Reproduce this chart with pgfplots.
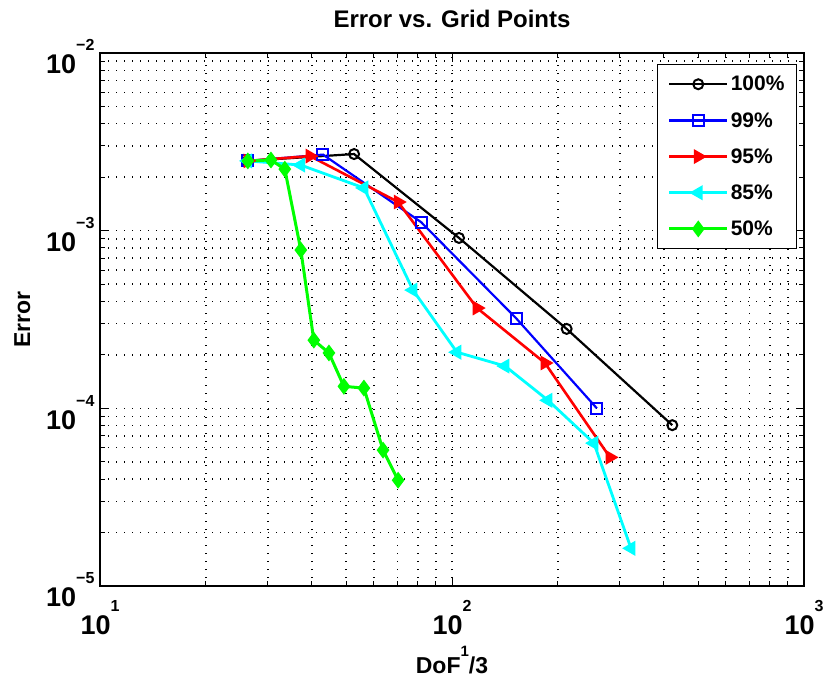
\documentclass[border=0pt]{standalone}
\usepackage{fontspec}
\setmainfont{Liberation Sans}
\usepackage{pgfplots}
\pgfplotsset{compat=1.18}
\definecolor{mcyan}{RGB}{0,255,255}
\definecolor{mgreen}{RGB}{0,255,0}
\definecolor{mblue}{RGB}{0,0,255}
\definecolor{mred}{RGB}{255,0,0}
\newcommand{\tl}[1]{{\fontsize{27}{30}\selectfont\bfseries 10\raisebox{0.85em}{\fontsize{16}{18}\selectfont #1}}}
\begin{document}
\begin{tikzpicture}[x=1pt,y=1pt]
\useasboundingbox (0,0) rectangle (823,683);
\begin{axis}[
 at={(100pt,97pt)}, anchor=south west,
 scale only axis, width=704pt, height=533pt,
 xmode=log, ymode=log,
 xmin=10, xmax=1000, ymin=1e-5, ymax=1e-2,
 xtick={10,100,1000}, ytick={1e-5,1e-4,1e-3,1e-2},
 xticklabels={\tl{1},\tl{2},\tl{3}},
 yticklabels={\tl{\textminus5},\tl{\textminus4},\tl{\textminus3},\tl{\textminus2}},
 xticklabel style={anchor=north, yshift=-11pt},
 yticklabel style={anchor=east, xshift=-2pt, yshift=-4pt},
 grid=both,
 major grid style={black, line width=1.4pt, dash pattern=on 1.4pt off 6.6pt},
 minor grid style={black, line width=1.4pt, dash pattern=on 1.4pt off 6.6pt},
 tick align=inside,
 major tick length=8pt, minor tick length=5pt,
 tick style={black, line width=1pt},
 axis line style={line width=1.2pt},
 title={\fontsize{24}{26}\selectfont\bfseries Error vs. Grid Points},
 title style={at={(axis description cs:0.5,1)}, anchor=base, yshift=20pt, inner sep=0pt},
 xlabel={\fontsize{23}{26}\selectfont\bfseries DoF\raisebox{0.7em}{\fontsize{15}{17}\selectfont 1}/3},
 xlabel style={at={(axis description cs:0.5,0)}, anchor=base, yshift=-87pt, inner sep=0pt},
 ylabel={\fontsize{23}{26}\selectfont\bfseries Error},
 ylabel style={at={(axis description cs:0,0.5)}, anchor=base, yshift=70pt, inner sep=0pt},
 legend style={at={(axis description cs:0.99,0.98)}, anchor=north east,
   draw=black, line width=1pt, font=\fontsize{21}{23}\selectfont\bfseries,
   row sep=16pt, inner sep=10pt, fill=white},
 legend cell align=left,
 legend image code/.code={\draw[#1] (0pt,0pt) -- (58pt,0pt); \draw[#1, mark repeat=1] plot coordinates {(29pt,0pt)};},
]
\addplot[black, line width=2.2pt, mark=o, mark size=5pt, mark options={line width=2pt, solid}] coordinates {
 (26.3,2.47e-3) (52.7,2.70e-3) (104.7,9.1e-4) (211.7,2.80e-4) (422.5,8.04e-5)};
\addlegendentry{100\%}
\addplot[mblue, line width=2.2pt, mark=square, mark size=5.5pt, mark options={line width=2pt, solid}] coordinates {
 (26.3,2.47e-3) (43.0,2.68e-3) (81.7,1.117e-3) (152,3.22e-4) (258,1.0e-4)};
\addlegendentry{99\%}
\addplot[mred, line width=2.6pt, mark=triangle*, mark size=6pt, mark options={rotate=-90, solid}] coordinates {
 (26.3,2.47e-3) (39.5,2.63e-3) (70.3,1.45e-3) (117.8,3.67e-4) (183.7,1.80e-4) (281,5.3e-5)};
\addlegendentry{95\%}
\addplot[mcyan, line width=2.8pt, mark=triangle*, mark size=6pt, mark options={rotate=90, solid}] coordinates {
 (26.3,2.47e-3) (37.2,2.34e-3) (56.2,1.74e-3) (77.5,4.63e-4) (103.3,2.07e-4) (141.5,1.73e-4) (187.4,1.11e-4) (253,6.37e-5) (322.5,1.63e-5)};
\addlegendentry{85\%}
\addplot[mgreen, line width=3pt, mark=diamond*, mark size=6pt, mark options={solid}] coordinates {
 (26.3,2.47e-3) (30.6,2.50e-3) (33.5,2.22e-3) (37.2,7.78e-4) (40.5,2.42e-4) (44.7,2.05e-4) (49.3,1.33e-4) (56.2,1.30e-4) (63.7,5.82e-5) (70.3,3.94e-5)};
\addlegendentry{50\%}
\end{axis}
\end{tikzpicture}
\end{document}
